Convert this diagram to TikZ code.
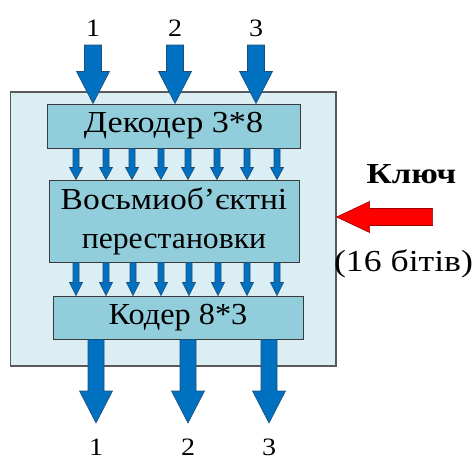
\documentclass[tikz,border=0pt]{standalone}
\usepackage{fontspec}
\usepackage{graphicx}
\setmainfont{Liberation Serif}
\usetikzlibrary{calc}

\definecolor{framefill}{HTML}{DAEEF3}
\definecolor{framedraw}{HTML}{595959}
\definecolor{boxfill}{HTML}{92CDDC}
\definecolor{boxdraw}{HTML}{3A3A3A}
\definecolor{flowblue}{HTML}{0070C0}
\definecolor{flowedge}{HTML}{1F4E79}
\definecolor{keyred}{HTML}{FF0000}
\definecolor{keyedge}{HTML}{A00000}

% slightly widened serif text
\newcommand\widetext[1]{\scalebox{1.12}[1]{#1}}

% downward block arrow: style, start point, tip point, head length, half shaft, half head
\newcommand\blockarrow[6]{%
  \draw[#1] let \p1=(#2), \p2=(#3) in
    (\x1-#5,\y1) -- (\x1+#5,\y1) -- (\x1+#5,\y2+#4) -- (\x1+#6,\y2+#4)
    -- (\x1,\y2) -- (\x1-#6,\y2+#4) -- (\x1-#5,\y2+#4) -- cycle;}

\tikzset{
  framebox/.style={draw=framedraw, fill=framefill, line width=1.1pt, inner sep=0pt},
  unitbox/.style={draw=boxdraw, fill=boxfill, line width=1pt, inner sep=0pt,
    font=\fontsize{30.5}{40}\selectfont, align=center},
  flow/.style={draw=flowedge, fill=flowblue, line width=0.6pt, line join=miter},
  keyarrow/.style={draw=keyedge, fill=keyred, line width=0.6pt},
  numlabel/.style={font=\fontsize{25}{28}\selectfont, anchor=base, inner sep=0pt},
  keylabel/.style={font=\fontsize{30.5}{34}\selectfont, anchor=base, inner sep=0pt},
}

\begin{document}
\begin{tikzpicture}[x=1pt, y=-1pt]
  \useasboundingbox (0,0) rectangle (473,459);

  % enclosing unit
  \node[framebox, minimum width=325.5pt, minimum height=274pt] (frame) at (173.25,229) {};

  % decoder, permutation and encoder stages
  \node[unitbox, minimum width=253pt, minimum height=44pt] (dec) at (173.5,126)
    {\widetext{Декодер 3*8}};
  \node[unitbox, minimum width=250pt, minimum height=82pt] (perm) at (174,221)
    {\scalebox{1.1}[1]{Восьмиоб’єктні}\\[-1pt]\scalebox{1.04}[1]{перестановки}};
  \node[unitbox, minimum width=250pt, minimum height=43pt] (cod) at (178,317.5)
    {\scalebox{1.06}[1]{Кодер 8*3}};

  % input bits
  \foreach \i/\x in {1/93, 2/175, 3/256} {
    \node[numlabel] (in\i) at (\x,36) {\widetext{\i}};
    \coordinate (inA\i) at (\x,45);
    \blockarrow{flow}{inA\i}{inA\i |- dec.north}{32}{8.5}{16.5}
  }

  % eight lines from the decoder to the permutation stage
  \foreach \x [count=\k] in {76,106,132,161,188,217,247,277} {
    \coordinate (mA\k) at (\x,0);
    \blockarrow{flow}{mA\k |- dec.south}{mA\k |- perm.north}{12}{3}{6.5}
  }

  % eight lines from the permutation stage to the encoder
  \foreach \x [count=\k] in {76,106,133,161,189,218,247,277} {
    \coordinate (mB\k) at (\x,0);
    \blockarrow{flow}{mB\k |- perm.south}{mB\k |- cod.north}{13}{3}{6.5}
  }

  % output bits
  \foreach \i/\x in {1/96, 2/188, 3/269} {
    \coordinate (outA\i) at (\x,423);
    \blockarrow{flow}{outA\i |- cod.south}{outA\i}{32}{8}{16.5}
    \node[numlabel] (out\i) at (\x,455) {\widetext{\i}};
  }

  % key input
  \node[keylabel, font=\fontsize{29}{32}\selectfont\bfseries] (key) at (411.5,183) {\scalebox{1.2}[1]{Ключ}};
  \node[keylabel] (keybits) at (403.5,271) {\scalebox{1.17}[1]{(16 бітів)}};
  \coordinate (keytip) at (frame.east |- 0,217);
  \draw[keyarrow] let \p1=(keytip) in
    (\p1) -- (\x1+33,\y1+15.5) -- (\x1+33,\y1+8.5) -- (\x1+96,\y1+8.5)
    -- (\x1+96,\y1-8.5) -- (\x1+33,\y1-8.5) -- (\x1+33,\y1-15.5) -- cycle;
\end{tikzpicture}
\end{document}
